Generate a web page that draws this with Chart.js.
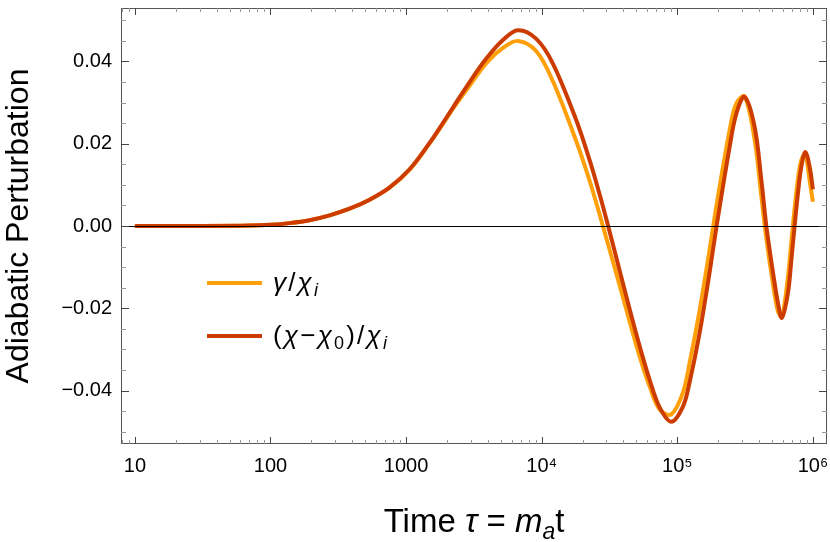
<!DOCTYPE html>
<html>
<head>
<meta charset="utf-8">
<script src="https://cdn.jsdelivr.net/npm/chart.js@4.4.1/dist/chart.umd.min.js"></script>
<style>
  html, body { margin: 0; padding: 0; background: #fff; }
  canvas { display: block; }
</style>
</head>
<body>
<canvas id="c" width="830" height="542"></canvas>
<script>
// time tau = m_a t (log axis)
const tau = [10, 30, 70, 100, 138, 194, 273, 383, 538, 756, 1061, 1490, 1766, 2214, 2940, 3903, 5175, 6675, 9125, 12090,
  17990, 22560, 26730, 30780, 37540, 44480, 52720, 62480, 74050, 90320, 110000, 123200, 146050, 173100, 194900,
  243100, 272400, 313500, 371600, 416500, 453300, 507000, 552000, 590700, 654200, 693100, 732900, 775000, 821300,
  879000, 945500, 1000000];

// gamma / chi_i
const gammaRatio = [0, 0, 0.0001, 0.0003, 0.0007, 0.0014, 0.0026, 0.0042, 0.0064, 0.0093, 0.0137, 0.0201, 0.0236, 0.0285,
  0.0341, 0.0396, 0.0433, 0.0450, 0.0425, 0.0352, 0.0206, 0.0110, 0.0028, -0.0043, -0.0144, -0.0232, -0.0317, -0.0390,
  -0.0446, -0.0458, -0.0405, -0.0333, -0.0205, -0.0057, 0.0052, 0.0233, 0.0298, 0.0315, 0.0210, 0.0072, -0.0030,
  -0.0140, -0.0207, -0.0220, -0.0125, -0.0038, 0.0043, 0.0113, 0.0160, 0.0174, 0.0110, 0.0059];

// (chi - chi_0) / chi_i
const chiShift = [0, 0, 0.0001, 0.0003, 0.0007, 0.0014, 0.0026, 0.0042, 0.0064, 0.0094, 0.0138, 0.0202, 0.0238, 0.0288,
  0.0350, 0.0407, 0.0452, 0.0476, 0.0455, 0.0395, 0.0257, 0.0160, 0.0077, 0.0002, -0.0108, -0.0202, -0.0292, -0.0374,
  -0.0441, -0.0476, -0.0439, -0.0380, -0.0260, -0.0112, 0.0, 0.0192, 0.0273, 0.0314, 0.0241, 0.0112, 0.0,
  -0.0112, -0.0187, -0.0223, -0.0163, -0.0083, 0.0, 0.0079, 0.0144, 0.0180, 0.0144, 0.0089];

const seriesLabels = ['γ/χᵢ', '(χ−χ₀)/χᵢ'];
const seriesColors = ['#ffa00a', '#cc3c00'];
const yLabelTicks = [-0.04, -0.02, 0, 0.02, 0.04];
const xLabelTicks = [10, 100, 1000, 1e4, 1e5, 1e6];

const FONT = "'Liberation Sans', Arial, sans-serif";
Chart.defaults.font.family = FONT;
Chart.defaults.color = '#000';

const sup = { '4': '⁴', '5': '⁵', '6': '⁶' };

// rich text pieces for legend and x title (italic / subscript parts)
const legendRich = [
  [{ t: 'γ', i: 1 }, { t: '/' }, { t: 'χ', i: 1 }, { t: 'i', i: 1, sub: 1 }],
  [{ t: '(' }, { t: 'χ', i: 1 }, { t: '−' }, { t: 'χ', i: 1 }, { t: '0', sub: 1 }, { t: ')' }, { t: '/' }, { t: 'χ', i: 1 }, { t: 'i', i: 1, sub: 1 }]
];
const xTitleRich = [{ t: 'Time ' }, { t: 'τ', i: 1 }, { t: ' = ' }, { t: 'm', i: 1 }, { t: 'a', i: 1, sub: 1 }, { t: 't' }];

function setFont(ctx, p, size) {
  ctx.font = `${p.i ? 'italic ' : ''}${p.sub ? Math.round(size * 0.7) : size}px ${FONT}`;
}

function richWidth(ctx, pieces, size, gap) {
  let w = 0;
  for (const p of pieces) {
    setFont(ctx, p, size);
    w += ctx.measureText(p.t).width + gap;
  }
  return w - gap;
}

function drawRich(ctx, pieces, x, y, size, gap) {
  ctx.textBaseline = 'alphabetic';
  ctx.textAlign = 'left';
  for (const p of pieces) {
    setFont(ctx, p, size);
    ctx.fillText(p.t, x, y + (p.sub ? size * 0.2 : 0));
    x += ctx.measureText(p.t).width + gap;
  }
}

function seg(ctx, x1, y1, x2, y2) {
  ctx.beginPath();
  ctx.moveTo(x1, y1);
  ctx.lineTo(x2, y2);
  ctx.stroke();
}

const framePlugin = {
  id: 'frame',
  afterDatasetsDraw(chart) {
    const { ctx, chartArea: a, scales: { x, y } } = chart;
    ctx.save();
    ctx.lineWidth = 1;

    // zero axis
    ctx.strokeStyle = '#000';
    const y0 = Math.round(y.getPixelForValue(0)) + 0.5;
    seg(ctx, a.left, y0, a.right, y0);

    // frame
    ctx.strokeStyle = '#555';
    ctx.strokeRect(a.left + 0.5, a.top + 0.5, a.right - a.left - 1, a.bottom - a.top - 1);

    // x ticks, bottom and top, pointing inward
    for (let e = 0; e <= 6; e++) {
      for (let k = 1; k <= 9; k++) {
        const v = k * Math.pow(10, e);
        if (v < x.min || v > x.max) continue;
        const px = Math.round(x.getPixelForValue(v)) + 0.5;
        const len = k === 1 ? 7 : 4;
        ctx.strokeStyle = k === 1 ? '#444' : '#999';
        seg(ctx, px, a.bottom, px, a.bottom - len);
        seg(ctx, px, a.top, px, a.top + len);
      }
    }

    // y ticks, left and right
    for (let i = -10; i <= 10; i++) {
      const v = i * 0.005;
      const py = Math.round(y.getPixelForValue(v)) + 0.5;
      const major = i % 4 === 0;
      const len = major ? 8 : 5;
      ctx.strokeStyle = major ? '#444' : '#999';
      seg(ctx, a.left, py, a.left + len, py);
      seg(ctx, a.right, py, a.right - len, py);
    }

    // legend inside the plot
    chart.data.datasets.forEach((ds, idx) => {
      const ly = [283, 336][idx];
      ctx.strokeStyle = ds.borderColor;
      ctx.lineWidth = 4;
      seg(ctx, 207, ly, 262, ly);
      ctx.fillStyle = '#000';
      drawRich(ctx, legendRich[idx], 273, ly + 8, 26, 2.2);
    });

    // x axis title
    ctx.fillStyle = '#000';
    const w = richWidth(ctx, xTitleRich, 33, 0);
    drawRich(ctx, xTitleRich, (a.left + a.right) / 2 - w / 2, 532, 33, 0);
    ctx.restore();
  }
};

new Chart(document.getElementById('c'), {
  type: 'line',
  data: {
    datasets: [
      {
        label: seriesLabels[0],
        data: tau.map((t, i) => ({ x: t, y: gammaRatio[i] })),
        borderColor: seriesColors[0],
        order: 2
      },
      {
        label: seriesLabels[1],
        data: tau.map((t, i) => ({ x: t, y: chiShift[i] })),
        borderColor: seriesColors[1],
        order: 1
      }
    ]
  },
  options: {
    responsive: false,
    animation: false,
    devicePixelRatio: 1,
    layout: { padding: { top: 8, right: 3, left: 0, bottom: 0 } },
    elements: {
      point: { radius: 0 },
      line: { borderWidth: 4, tension: 0.35, fill: false, borderCapStyle: 'butt' }
    },
    plugins: { legend: { display: false }, tooltip: { enabled: false } },
    scales: {
      x: {
        type: 'logarithmic',
        min: 7.9,
        max: 1.27e6,
        grid: { display: false, drawTicks: false },
        border: { display: false },
        afterFit: s => { s.height = 98; s.paddingLeft = 0; s.paddingRight = 0; },
        ticks: {
          autoSkip: false, maxRotation: 0, minRotation: 0, padding: 10,
          font: { size: 20 },
          callback: v => {
            const hit = xLabelTicks.find(t => Math.abs(v / t - 1) < 1e-6);
            if (!hit) return '';
            const e = Math.round(Math.log10(hit));
            return e <= 3 ? String(hit) : '10' + sup[e];
          }
        }
      },
      y: {
        min: -0.053,
        max: 0.053,
        grid: { display: false, drawTicks: false },
        border: { display: false },
        afterFit: s => { s.width = 121; s.paddingTop = 0; s.paddingBottom = 0; },
        title: { display: true, text: 'Adiabatic Perturbation', font: { size: 32 }, padding: 0 },
        ticks: {
          stepSize: 0.02, autoSkip: false, padding: 9,
          font: { size: 20 },
          callback: v => {
            const hit = yLabelTicks.find(t => Math.abs(v - t) < 1e-6);
            if (hit === undefined) return '';
            return hit.toFixed(2).replace('-', '−');
          }
        }
      }
    }
  },
  plugins: [framePlugin]
});
</script>
</body>
</html>
